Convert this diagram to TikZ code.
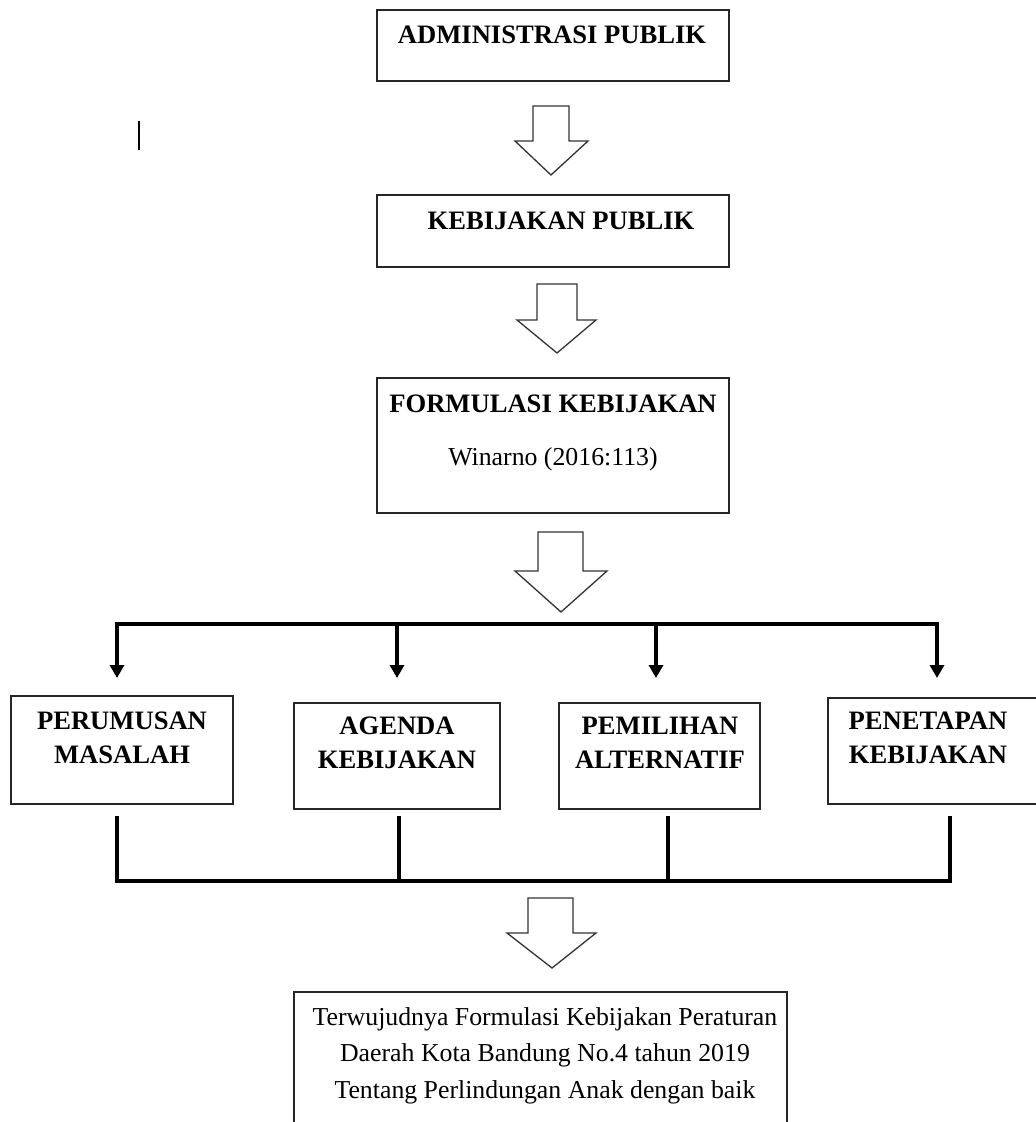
\documentclass[tikz,border=0pt]{standalone}
\usepackage{fontspec}
\setmainfont{Liberation Serif}
\usetikzlibrary{arrows.meta}
\begin{document}
\begin{tikzpicture}[x=1pt,y=-1pt]
\tikzstyle{box}=[draw=black!85,line width=1.6pt,rectangle,inner sep=0pt]
\tikzstyle{head}=[font=\bfseries\fontsize{26.6}{34}\selectfont,align=center,anchor=base,inner sep=0pt]
\tikzstyle{body}=[font=\fontsize{25.8}{36.5}\selectfont,align=center,anchor=base,inner sep=0pt]
\tikzstyle{fat}=[draw=black!80,line width=1.3pt,fill=white]
\tikzstyle{bus}=[line width=3.5pt,line cap=rect]
\useasboundingbox (0,0) rectangle (1036,1122);
% upper boxes
\node[box,minimum width=352pt,minimum height=71pt](adm) at (553,45.5) {};
\node[head](admtxt) at (552,43) {ADMINISTRASI PUBLIK};
\node[box,minimum width=352pt,minimum height=72pt](kebpub) at (553,231) {};
\node[head](kebpubtxt) at (561,229) {KEBIJAKAN PUBLIK};
\node[box,minimum width=352pt,minimum height=135pt](form) at (553,445.5) {};
\node[head](formtxt) at (553,412) {FORMULASI KEBIJAKAN};
\node[body](wintxt) at (553,465) {Winarno (2016:113)};
\draw[line width=1.2pt] (139,121) -- (139,150);
% block arrows
\draw[fat] (533,106) -- ++(36,0) -- ++(0,35) -- ++(19,0) -- (551,175) -- (515,141) -- ++(18,0) -- cycle;
\draw[fat] (537,284) -- ++(40,0) -- ++(0,36) -- ++(19,0) -- (557,353) -- (517,320) -- ++(20,0) -- cycle;
\draw[fat] (538,532) -- ++(45,0) -- ++(0,39) -- ++(24,0) -- (561,612) -- (515,571) -- ++(23,0) -- cycle;
\draw[fat] (528,898) -- ++(45,0) -- ++(0,35) -- ++(23,0) -- (552,968) -- (507,933) -- ++(21,0) -- cycle;
% the four steps
\node[box,minimum width=222pt,minimum height=108pt](perum) at (122,750) {};
\node[head](perumtxt) at (122,763) {PERUMUSAN\\MASALAH};
\node[box,minimum width=206pt,minimum height=106pt](agenda) at (397,756) {};
\node[head](agendatxt) at (397,768) {AGENDA\\KEBIJAKAN};
\node[box,minimum width=201pt,minimum height=106pt](pilih) at (659.5,756) {};
\node[head](pilihtxt) at (660,768) {PEMILIHAN\\ALTERNATIF};
\node[box,minimum width=212pt,minimum height=106pt](tetap) at (934,751) {};
\node[head](tetaptxt) at (928,763) {PENETAPAN\\KEBIJAKAN};
% result
\node[box,minimum width=493pt,minimum height=140pt](hasil) at (540.5,1062) {};
\node[body](hasiltxt) at (545,1098) {Terwujudnya Formulasi Kebijakan Peraturan\\Daerah Kota Bandung No.4 tahun 2019\\Tentang Perlindungan Anak dengan baik};
% branch lines
\coordinate (t1) at (117,624);
\coordinate (t2) at (397,624);
\coordinate (t3) at (656,624);
\coordinate (t4) at (937,624);
\draw[bus] (t1) -- (t4);
\foreach \t in {t1,t2,t3,t4}
  \draw[bus,-{Triangle[width=14pt,length=13pt]}] (\t) -- ++(0,54);
\coordinate (b1) at (117,881);
\coordinate (b2) at (399,881);
\coordinate (b3) at (668,881);
\coordinate (b4) at (950,881);
\draw[bus] (b1) -- (b4);
\foreach \b in {b1,b2,b3,b4}
  \draw[bus] (\b) -- ++(0,-63);
\end{tikzpicture}
\end{document}
